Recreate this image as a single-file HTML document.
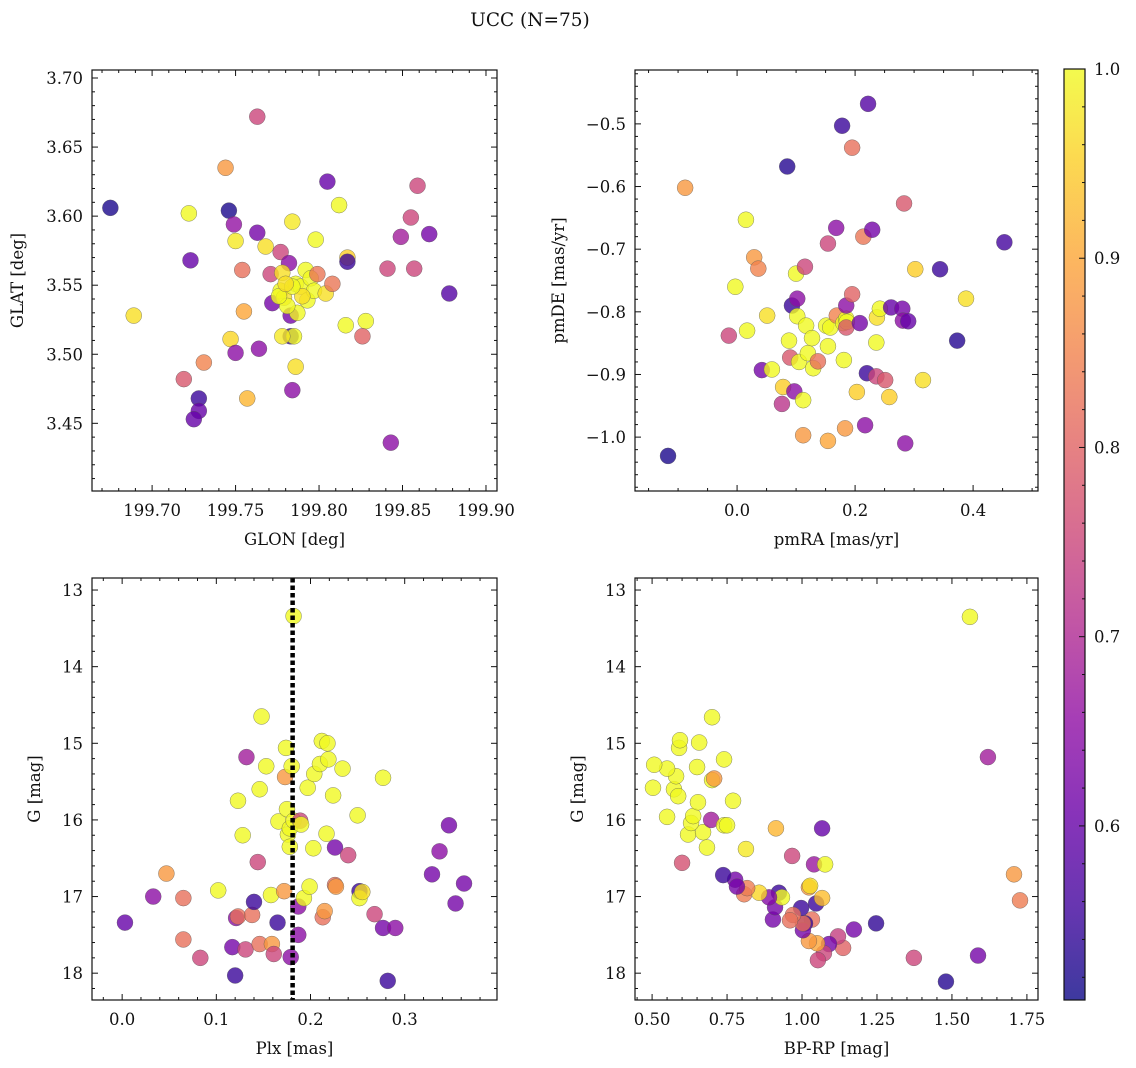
<!DOCTYPE html>
<html><head><meta charset="utf-8">
<style>
html,body{margin:0;padding:0;background:#fff;}
svg{display:block;font-family:"DejaVu Serif","Liberation Serif",serif;}
</style></head>
<body>
<svg id="fig" width="1136" height="1068" viewBox="0 0 1136 1068" xmlns="http://www.w3.org/2000/svg">
<text x="530" y="26" text-anchor="middle" font-size="18.5" fill="#111">UCC (N=75)</text>
</svg>
<script>
// ---- Panel 1: GLON / GLAT ----
const p1Lon = [199.675,199.722,199.763,199.744,199.746,199.749,199.750,199.763,199.723,199.689,199.719,199.731,199.747,199.750,199.755,199.754,199.757,199.728,199.728,199.725,199.764,199.768,199.771,199.772,199.777,199.782,199.778,199.777,199.779,199.784,199.783,199.783,199.785,199.778,199.784,199.786,199.786,199.787,199.789,199.792,199.793,199.795,199.797,199.799,199.798,199.804,199.805,199.812,199.808,199.817,199.817,199.816,199.828,199.826,199.841,199.843,199.849,199.855,199.857,199.859,199.866,199.878,199.781,199.776,199.790,199.784,199.780];
const p1Lat = [3.606,3.602,3.672,3.635,3.604,3.594,3.582,3.588,3.568,3.528,3.482,3.494,3.511,3.501,3.531,3.561,3.468,3.468,3.459,3.453,3.504,3.578,3.558,3.537,3.574,3.566,3.559,3.546,3.541,3.596,3.528,3.513,3.513,3.513,3.474,3.491,3.551,3.530,3.549,3.561,3.539,3.555,3.546,3.558,3.583,3.544,3.625,3.608,3.551,3.570,3.567,3.521,3.524,3.513,3.562,3.436,3.585,3.599,3.562,3.622,3.587,3.544,3.535,3.542,3.542,3.549,3.551];
const p1Prob = [0.52,1.0,0.75,0.88,0.52,0.66,0.98,0.62,0.6,0.97,0.78,0.85,0.96,0.65,0.9,0.82,0.92,0.55,0.6,0.6,0.65,0.97,0.75,0.62,0.75,0.65,0.97,1.0,0.97,0.98,0.62,0.55,1.0,0.98,0.65,0.97,1.0,1.0,1.0,1.0,1.0,1.0,1.0,0.83,1.0,0.97,0.6,1.0,0.83,0.95,0.55,1.0,1.0,0.8,0.75,0.65,0.68,0.75,0.75,0.75,0.62,0.58,1.0,1.0,0.97,1.0,0.97];
// ---- Panel 2: pmRA / pmDE ----
const p2Pmra = [-0.088,-0.117,-0.003,0.015,0.017,0.029,0.036,-0.014,0.051,0.042,0.059,0.078,0.076,0.085,0.088,0.093,0.102,0.100,0.102,0.090,0.097,0.115,0.117,0.105,0.112,0.112,0.120,0.127,0.129,0.137,0.154,0.151,0.158,0.154,0.154,0.169,0.168,0.180,0.185,0.186,0.181,0.185,0.183,0.185,0.178,0.195,0.195,0.203,0.208,0.214,0.217,0.222,0.220,0.229,0.236,0.236,0.237,0.242,0.251,0.261,0.258,0.280,0.283,0.281,0.285,0.290,0.302,0.315,0.344,0.373,0.388,0.453];
const p2Pmde = [-0.602,-1.030,-0.760,-0.653,-0.830,-0.713,-0.731,-0.838,-0.806,-0.893,-0.892,-0.920,-0.947,-0.568,-0.846,-0.790,-0.779,-0.739,-0.807,-0.873,-0.927,-0.728,-0.822,-0.880,-0.941,-0.997,-0.866,-0.842,-0.890,-0.879,-0.691,-0.822,-0.825,-0.855,-1.006,-0.806,-0.666,-0.818,-0.811,-0.816,-0.877,-0.825,-0.986,-0.790,-0.503,-0.772,-0.538,-0.928,-0.818,-0.680,-0.981,-0.468,-0.898,-0.669,-0.903,-0.849,-0.809,-0.795,-0.909,-0.793,-0.936,-0.795,-0.627,-0.814,-1.010,-0.815,-0.732,-0.909,-0.732,-0.846,-0.779,-0.689];
const p2Prob = [0.88,0.52,1.0,1.0,1.0,0.88,0.85,0.75,0.97,0.62,1.0,0.95,0.72,0.53,1.0,0.55,0.65,1.0,1.0,0.78,0.65,0.75,1.0,1.0,1.0,0.88,1.0,1.0,1.0,0.82,0.75,1.0,1.0,1.0,0.9,0.85,0.65,1.0,1.0,1.0,1.0,0.78,0.88,0.65,0.55,0.8,0.82,0.95,0.62,0.83,0.65,0.58,0.55,0.62,0.75,1.0,0.97,1.0,0.78,0.6,0.95,0.62,0.78,0.65,0.65,0.6,0.95,0.97,0.55,0.53,0.97,0.56];
// ---- Panel 3: Plx / G ----
const p3Plx = [0.003,0.033,0.047,0.065,0.065,0.083,0.102,0.117,0.120,0.121,0.123,0.123,0.128,0.132,0.131,0.138,0.140,0.144,0.146,0.146,0.148,0.153,0.158,0.159,0.161,0.165,0.166,0.172,0.173,0.174,0.175,0.176,0.178,0.178,0.179,0.180,0.182,0.182,0.187,0.187,0.189,0.190,0.193,0.199,0.197,0.203,0.204,0.210,0.212,0.217,0.218,0.219,0.213,0.215,0.224,0.226,0.226,0.227,0.234,0.240,0.250,0.252,0.252,0.255,0.268,0.277,0.277,0.282,0.290,0.329,0.337,0.347,0.354,0.363];
const p3G = [17.34,17.00,16.70,17.02,17.56,17.80,16.92,17.66,18.03,17.28,17.26,15.75,16.20,15.18,17.69,17.24,17.07,16.55,17.62,15.60,14.65,15.30,16.98,17.62,17.75,17.34,16.02,16.93,15.44,15.06,15.86,16.19,16.35,16.11,17.79,15.30,13.34,16.01,17.50,17.13,16.01,16.06,17.02,16.87,15.58,16.37,15.40,15.27,14.97,16.18,15.00,15.21,17.27,17.19,15.68,16.36,16.85,16.87,15.33,16.46,15.94,16.93,17.02,16.94,17.23,15.45,17.41,18.10,17.41,16.71,16.41,16.07,17.09,16.83];
const p3Prob = [0.6,0.65,0.88,0.82,0.82,0.75,1.0,0.62,0.55,0.65,0.82,1.0,1.0,0.68,0.75,0.82,0.55,0.75,0.82,1.0,1.0,1.0,1.0,0.88,0.75,0.55,1.0,0.88,0.88,1.0,1.0,1.0,1.0,1.0,0.65,1.0,1.0,1.0,0.65,0.65,0.75,1.0,1.0,1.0,1.0,1.0,1.0,1.0,1.0,1.0,1.0,1.0,0.82,0.88,1.0,0.62,0.82,0.88,1.0,0.75,1.0,0.55,1.0,0.97,0.75,1.0,0.62,0.55,0.65,0.62,0.65,0.62,0.62,0.62];
// ---- Panel 4: BP-RP / G ----
const p4Bprp = [1.56,1.62,1.707,1.727,1.587,1.48,1.373,1.247,1.173,1.137,1.12,1.09,1.073,1.053,1.05,1.023,1.047,1.067,1.067,1.04,1.077,1.023,1.027,1.033,1.01,1.003,1.003,0.997,0.97,0.96,0.967,0.913,0.903,0.91,0.923,0.933,0.89,0.857,0.807,0.817,0.777,0.783,0.737,0.813,0.60,0.683,0.62,0.67,0.63,0.637,0.55,0.697,0.74,0.75,0.653,0.77,0.503,0.573,0.587,0.58,0.55,0.507,0.65,0.70,0.707,0.74,0.657,0.59,0.593,0.70];
const p4G = [13.35,15.18,16.71,17.05,17.77,18.11,17.80,17.35,17.43,17.67,17.52,17.62,17.74,17.83,17.61,17.58,17.09,17.02,16.11,16.58,16.58,16.88,16.86,17.30,17.35,17.44,17.35,17.15,17.24,17.31,16.47,16.11,17.30,17.14,16.95,17.01,17.01,16.95,16.97,16.89,16.78,16.87,16.72,16.38,16.56,16.36,16.19,16.16,16.04,15.95,15.96,16.00,16.07,16.07,15.77,15.75,15.58,15.60,15.69,15.43,15.33,15.28,15.31,15.48,15.46,15.21,14.99,15.06,14.96,14.66];
const p4Prob = [1.0,0.68,0.88,0.84,0.62,0.53,0.75,0.54,0.62,0.8,0.74,0.62,0.75,0.75,0.9,0.88,0.55,0.93,0.6,0.67,1.0,0.88,0.97,0.82,0.55,0.62,0.82,0.55,0.82,0.82,0.75,0.92,0.62,0.62,0.55,1.0,0.64,0.96,0.84,0.84,0.62,0.62,0.55,0.98,0.77,1.0,1.0,1.0,1.0,1.0,1.0,0.68,1.0,1.0,1.0,1.0,1.0,1.0,1.0,1.0,1.0,1.0,1.0,1.0,0.88,1.0,1.0,1.0,1.0,1.0];
// plx reference line value
const plxRef = [0.181];
// colorbar ticks
const cbTicks = [0.6,0.7,0.8,0.9,1.0];

const NS = "http://www.w3.org/2000/svg";
const svg = document.getElementById('fig');
const VMIN = 0.508, VMAX = 1.0;
const PLASMA = ["#0d0887","#41049d","#6a00a8","#8f0da4","#b12a90","#cc4778","#e16462","#f2844b","#fca636","#fcce25","#f0f921"];
function hex(c){return [parseInt(c.substr(1,2),16),parseInt(c.substr(3,2),16),parseInt(c.substr(5,2),16)];}
function plasma(t){
  t=Math.max(0,Math.min(1,t));
  const f=t*10, i=Math.min(9,Math.floor(f)), u=f-i;
  const a=hex(PLASMA[i]), b=hex(PLASMA[i+1]);
  return 'rgb('+a.map((v,k)=>Math.round(v+(b[k]-v)*u)).join(',')+')';
}
function colorOf(p){return plasma((p-VMIN)/(VMAX-VMIN));}
function el(tag, attrs, parent){
  const e=document.createElementNS(NS,tag);
  for(const k in attrs) e.setAttribute(k,attrs[k]);
  (parent||svg).appendChild(e); return e;
}
function fmt(v,d){return (v<0?'\u2212':'')+Math.abs(v).toFixed(d);}

function drawPanel(c){
  const g=el('g',{});
  
  
  const sx=v=>c.L+(v-c.x0)/(c.x1-c.x0)*(c.R-c.L);
  const sy=v=>c.B-(v-c.y0)/(c.y1-c.y0)*(c.B-c.T);
  const pg=el('g',{},g);
  
  
  for(let i=0;i<c.xs.length;i++){
    const pt=el('circle',{cx:sx(c.xs[i]),cy:sy(c.ys[i]),r:8,fill:colorOf(c.ps[i]),'fill-opacity':0.8,stroke:'#555','stroke-width':0.5,'stroke-opacity':0.7},pg);
    
    
  }
  if(c.extra) c.extra(g,sx,sy);
  const fr=el('rect',{x:c.L,y:c.T,width:c.R-c.L,height:c.B-c.T,fill:'none',stroke:'#111','stroke-width':1.2},g);
  
  
  const tk=el('g',{stroke:'#111','stroke-width':1},g);
  
  
  const eps=1e-9;
  const xlo=Math.min(c.x0,c.x1), xhi=Math.max(c.x0,c.x1);
  const ylo=Math.min(c.y0,c.y1), yhi=Math.max(c.y0,c.y1);
  for(let v=Math.ceil(xlo/c.xmin-eps)*c.xmin; v<=xhi+eps; v+=c.xmin){
    const isMaj=Math.abs(v/c.xmaj-Math.round(v/c.xmaj))<1e-6;
    const x=sx(v), len=isMaj?6:3;
    el('line',{x1:x,y1:c.B,x2:x,y2:c.B-len},tk);
    el('line',{x1:x,y1:c.T,x2:x,y2:c.T+len},tk);
  }
  for(let v=Math.ceil(xlo/c.xmaj-eps)*c.xmaj; v<=xhi+eps; v+=c.xmaj){
    const t=el('text',{x:sx(v),y:c.B+25,'text-anchor':'middle','font-size':16.5,fill:'#111'},g);
    t.textContent=fmt(v,c.xd);
    
    
  }
  for(let v=Math.ceil(ylo/c.ymin-eps)*c.ymin; v<=yhi+eps; v+=c.ymin){
    const isMaj=Math.abs(v/c.ymaj-Math.round(v/c.ymaj))<1e-6;
    const y=sy(v), len=isMaj?6:3;
    el('line',{x1:c.L,y1:y,x2:c.L+len,y2:y},tk);
    el('line',{x1:c.R,y1:y,x2:c.R-len,y2:y},tk);
  }
  for(let v=Math.ceil(ylo/c.ymaj-eps)*c.ymaj; v<=yhi+eps; v+=c.ymaj){
    const t=el('text',{x:c.L-9,y:sy(v)+6,'text-anchor':'end','font-size':16.5,fill:'#111'},g);
    t.textContent=fmt(v,c.yd);
    
    
  }
  const xl=el('text',{x:(c.L+c.R)/2,y:c.B+54,'text-anchor':'middle','font-size':16.5,fill:'#111'},g);
  xl.textContent=c.xlabel;
  
  
  const yx=c.ylx, yy=(c.T+c.B)/2;
  const yl=el('text',{x:yx,y:yy,'text-anchor':'middle','font-size':16.5,fill:'#111',transform:'rotate(-90 '+yx+' '+yy+')'},g);
  yl.textContent=c.ylabel;
  
  
}

drawPanel({name:'glon-glat-panel',xs:p1Lon,ys:p1Lat,ps:p1Prob,L:92,R:497,T:70,B:491,
  x0:199.664,x1:199.9066,y0:3.401,y1:3.7058,xmaj:0.05,xmin:0.01,ymaj:0.05,ymin:0.01,xd:2,yd:2,
  xlabel:'GLON [deg]',ylabel:'GLAT [deg]',ylx:23});
drawPanel({name:'pm-panel',xs:p2Pmra,ys:p2Pmde,ps:p2Prob,L:635,R:1038,T:70,B:491,
  x0:-0.173,x1:0.510,y0:-1.086,y1:-0.414,xmaj:0.2,xmin:0.05,ymaj:0.1,ymin:0.02,xd:1,yd:1,
  xlabel:'pmRA [mas/yr]',ylabel:'pmDE [mas/yr]',ylx:564});
drawPanel({name:'plx-g-panel',xs:p3Plx,ys:p3G,ps:p3Prob,L:92,R:497,T:578,B:1000,
  x0:-0.032,x1:0.398,y0:18.35,y1:12.843,xmaj:0.1,xmin:0.02,ymaj:1,ymin:0.2,xd:1,yd:0,
  xlabel:'Plx [mas]',ylabel:'G [mag]',ylx:40,
  extra:function(g,sx,sy){
    for(const v of plxRef){
      const ln=el('line',{x1:sx(v),y1:578,x2:sx(v),y2:1000,stroke:'#000','stroke-width':4.5,'stroke-dasharray':'4.5,3'},g);
      
      
    }
  }});
drawPanel({name:'cmd-panel',xs:p4Bprp,ys:p4G,ps:p4Prob,L:635,R:1038,T:578,B:1000,
  x0:0.443,x1:1.787,y0:18.35,y1:12.843,xmaj:0.25,xmin:0.05,ymaj:1,ymin:0.2,xd:2,yd:0,
  xlabel:'BP-RP [mag]',ylabel:'G [mag]',ylx:583});

(function(){
  const L=1064,R=1085,T=69,B=1000;
  const defs=el('defs',{});
  const gr=el('linearGradient',{id:'cbg',x1:0,y1:1,x2:0,y2:0},defs);
  for(let i=0;i<=20;i++){
    el('stop',{offset:(i/20),'stop-color':plasma(i/20),'stop-opacity':0.8},gr);
  }
  const cb=el('g',{});
  
  
  el('rect',{x:L,y:T,width:R-L,height:B-T,fill:'url(#cbg)'},cb);
  el('rect',{x:L,y:T,width:R-L,height:B-T,fill:'none',stroke:'#111','stroke-width':1.2},cb);
  const sy=v=>B-(v-VMIN)/(VMAX-VMIN)*(B-T);
  for(let v=0.52; v<=1.0001; v+=0.02){
    const isMaj=Math.abs(v*10-Math.round(v*10))<1e-6;
    el('line',{x1:R,y1:sy(v),x2:R-(isMaj?6:3),y2:sy(v),stroke:'#111','stroke-width':1},cb);
  }
  for(const v of cbTicks){
    const t=el('text',{x:R+9,y:sy(v)+6,'font-size':16.5,fill:'#111'},cb);
    t.textContent=v.toFixed(1);
    
    
  }
})();
</script>
</body></html>
